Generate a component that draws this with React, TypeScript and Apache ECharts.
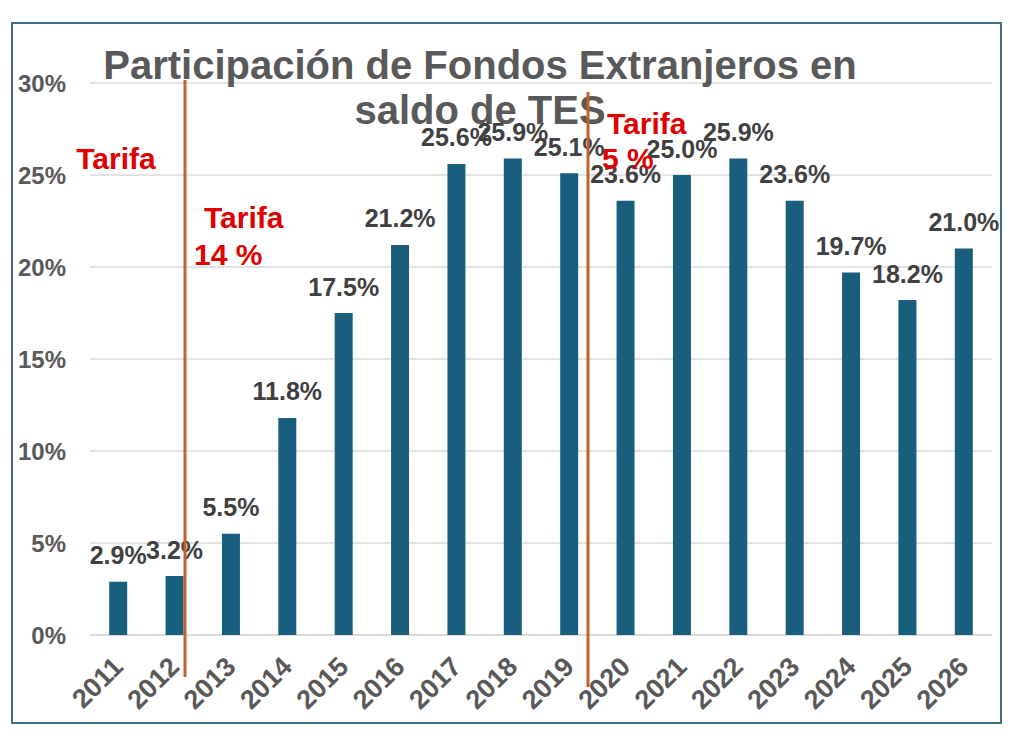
import React, { useEffect, useRef } from "react";
import * as echarts from "echarts";

const categories = ["2011", "2012", "2013", "2014", "2015", "2016", "2017", "2018", "2019", "2020", "2021", "2022", "2023", "2024", "2025", "2026"];
const values = [2.9, 3.2, 5.5, 11.8, 17.5, 21.2, 25.6, 25.9, 25.1, 23.6, 25.0, 25.9, 23.6, 19.7, 18.2, 21.0];
const yTicks = { min: 0, max: 30, interval: 5 };
const titleLines = ["Participación de Fondos Extranjeros en", "saldo de TES"];

const FONT = "'Liberation Sans', Arial, sans-serif";

export default function App() {
  const ref = useRef<HTMLDivElement>(null);
  useEffect(() => {
    document.body.style.margin = "0";
    const chart = echarts.init(ref.current!, undefined, { renderer: "svg" });
    const redText = (text: string, x: number, y: number, align: string) => ({
      type: "text",
      z: 100,
      style: {
        text,
        x,
        y,
        align,
        verticalAlign: "middle",
        fill: "#e00000",
        font: `bold 30px ${FONT}`,
      },
    });
    chart.setOption({
      animation: false,
      backgroundColor: "#ffffff",
      grid: { left: 90, right: 32, top: 83, bottom: 119, containLabel: false },
      xAxis: {
        type: "category",
        data: categories,
        axisTick: { show: false },
        axisLine: { lineStyle: { color: "#d9d9d9", width: 1.5 } },
        axisLabel: {
          rotate: 45,
          margin: 27,
          color: "#595959",
          fontWeight: "bold",
          fontSize: 27,
          fontFamily: FONT,
          interval: 0,
        },
      },
      yAxis: {
        type: "value",
        min: yTicks.min,
        max: yTicks.max,
        interval: yTicks.interval,
        axisLine: { show: false },
        axisTick: { show: false },
        splitLine: { lineStyle: { color: "#d9d9d9", width: 1.5 } },
        axisLabel: {
          formatter: "{value}%",
          margin: 24,
          color: "#595959",
          fontWeight: "bold",
          fontSize: 24,
          fontFamily: FONT,
        },
      },
      series: [
        {
          type: "bar",
          data: values,
          barWidth: 18,
          itemStyle: { color: "#1a5e7e" },
          label: {
            show: true,
            position: "top",
            distance: 14,
            formatter: (p: any) => p.value.toFixed(1) + "%",
            color: "#404040",
            fontWeight: "bold",
            fontSize: 25,
            fontFamily: FONT,
          },
        },
      ],
      graphic: [
        {
          type: "rect",
          z: 0,
          shape: { x: 12, y: 23, width: 989, height: 700 },
          style: { fill: "none", stroke: "#41707f", lineWidth: 2 },
        },
        {
          type: "text",
          z: 50,
          style: {
            text: titleLines[0],
            x: 480,
            y: 65,
            align: "center",
            verticalAlign: "middle",
            fill: "#595959",
            font: `bold 40px ${FONT}`,
          },
        },
        {
          type: "text",
          z: 50,
          style: {
            text: titleLines[1],
            x: 480,
            y: 110,
            align: "center",
            verticalAlign: "middle",
            fill: "#595959",
            font: `bold 40px ${FONT}`,
          },
        },
        {
          type: "line",
          z: 90,
          shape: { x1: 185, y1: 80, x2: 185, y2: 677 },
          style: { stroke: "#c0622b", lineWidth: 3 },
        },
        {
          type: "line",
          z: 90,
          shape: { x1: 588, y1: 92, x2: 588, y2: 687 },
          style: { stroke: "#c0622b", lineWidth: 3 },
        },
        redText("Tarifa", 116, 158, "center"),
        redText("Tarifa", 204, 217, "left"),
        redText("14 %", 194, 254, "left"),
        redText("Tarifa", 607, 123, "left"),
        redText("5 %", 602, 158, "left"),
      ],
    });
    return () => chart.dispose();
  }, []);
  return (
    <div
      ref={ref}
      style={{ position: "absolute", left: 0, top: 0, width: 1024, height: 754 }}
    />
  );
}
